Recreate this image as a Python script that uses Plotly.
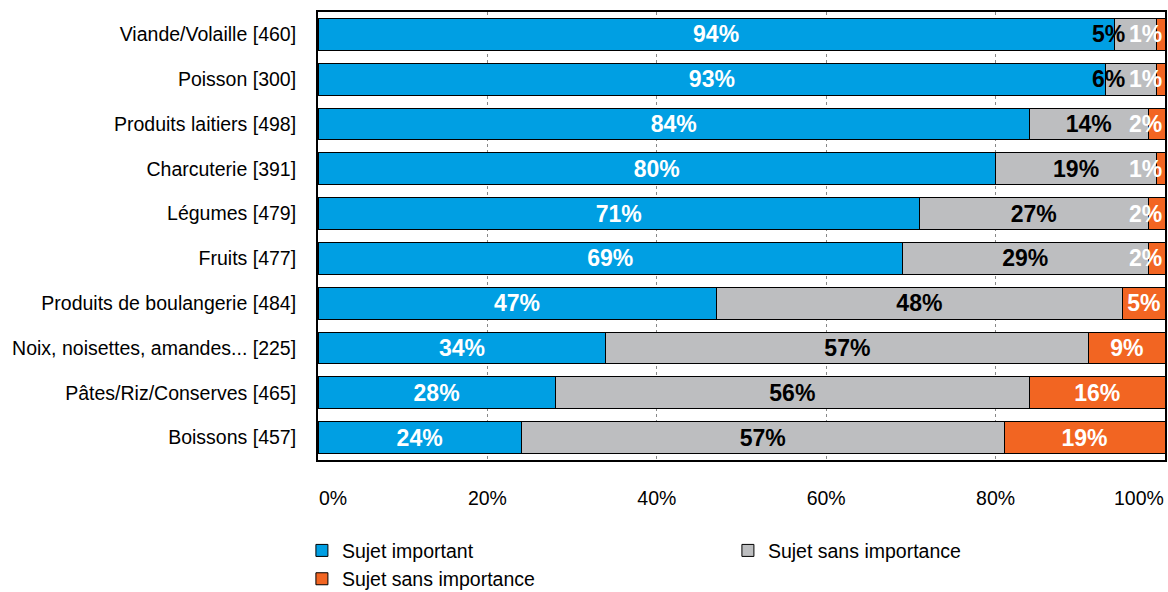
import plotly.graph_objects as go

categories = [
    "Viande/Volaille [460]", "Poisson [300]", "Produits laitiers [498]",
    "Charcuterie [391]", "Légumes [479]", "Fruits [477]",
    "Produits de boulangerie [484]", "Noix, noisettes, amandes... [225]",
    "Pâtes/Riz/Conserves [465]", "Boissons [457]",
]
important = [94, 93, 84, 80, 71, 69, 47, 34, 28, 24]
sans_importance = [5, 6, 14, 19, 27, 29, 48, 57, 56, 57]
sans_importance2 = [1, 1, 2, 1, 2, 2, 5, 9, 16, 19]
series_names = ["Sujet important", "Sujet sans importance", "Sujet sans importance"]
tick_vals = [0, 20, 40, 60, 80, 100]
tick_text = ["0%", "20%", "40%", "60%", "80%", "100%"]

colors = ["#009FE3", "#BDBEC0", "#F26522"]
text_colors = ["white", "black", "white"]
font_fam = "Liberation Sans, Arial, sans-serif"
bar_font = 23
axis_font = dict(family=font_fam, size=19.5, color="black")

series = [important, sans_importance, sans_importance2]

fig = go.Figure()
annotations = []
for k, (name, vals, col, tc) in enumerate(zip(series_names, series, colors, text_colors)):
    positions = []
    for i, v in enumerate(vals):
        small = (k == 2 and v < 5) or (k == 1 and v < 10 and sans_importance2[i] < 5)
        positions.append("none" if small else "inside")
        if small:
            end = sum(s[i] for s in series[:k + 1])
            annotations.append(dict(
                x=end, y=categories[i], xref="x", yref="y", text=f"{v}%",
                showarrow=False, xanchor="right", xshift=(-1 if k == 2 else -30),
                font=dict(family=font_fam, size=bar_font, color=tc, weight="bold"),
            ))
    fig.add_trace(go.Bar(
        y=categories, x=vals, name=name, orientation="h",
        marker=dict(color=col, line=dict(color="black", width=1)),
        text=[f"{v}%" for v in vals], textposition=positions, insidetextanchor="middle",
        textangle=0, cliponaxis=False,
        textfont=dict(family=font_fam, size=bar_font, color=tc, weight="bold"),
        hoverinfo="skip",
    ))

# end tick labels are kept inside the frame in the reference (left/right aligned)
for val, txt, anc in [(tick_vals[0], tick_text[0], "left"), (tick_vals[-1], tick_text[-1], "right")]:
    annotations.append(dict(x=val, y=0, xref="x", yref="paper", text=txt, showarrow=False,
                            xanchor=anc, yanchor="middle", yshift=-38, borderpad=0,
                            font=axis_font))

fig.update_layout(
    barmode="stack", bargap=0.29,
    width=1168, height=592,
    margin=dict(l=318, r=3, t=12, b=132, autoexpand=False),
    paper_bgcolor="white", plot_bgcolor="white",
    uniformtext=dict(minsize=bar_font, mode="show"),
    font=dict(family=font_fam, size=19.5, color="black"),
    legend=dict(orientation="h", x=-0.019, xanchor="left", y=-0.159, yanchor="top",
                entrywidth=381, entrywidthmode="pixels", traceorder="normal",
                font=dict(family=font_fam, size=19.5), itemclick=False),
    showlegend=True,
    annotations=annotations,
)
fig.update_xaxes(range=[0, 100], tickvals=tick_vals, ticktext=["", *tick_text[1:-1], ""],
                 showgrid=True, gridcolor="#888888", griddash="dot", gridwidth=1,
                 showline=True, linecolor="black", linewidth=2, mirror=True,
                 zeroline=False, ticks="", ticklabelstandoff=20, automargin=False,
                 tickfont=axis_font)
fig.update_yaxes(autorange="reversed", showline=True, linecolor="black", linewidth=2, mirror=True,
                 ticks="", ticklabelstandoff=16, showgrid=False, automargin=False,
                 tickfont=axis_font)

fig.write_html("out.html")
